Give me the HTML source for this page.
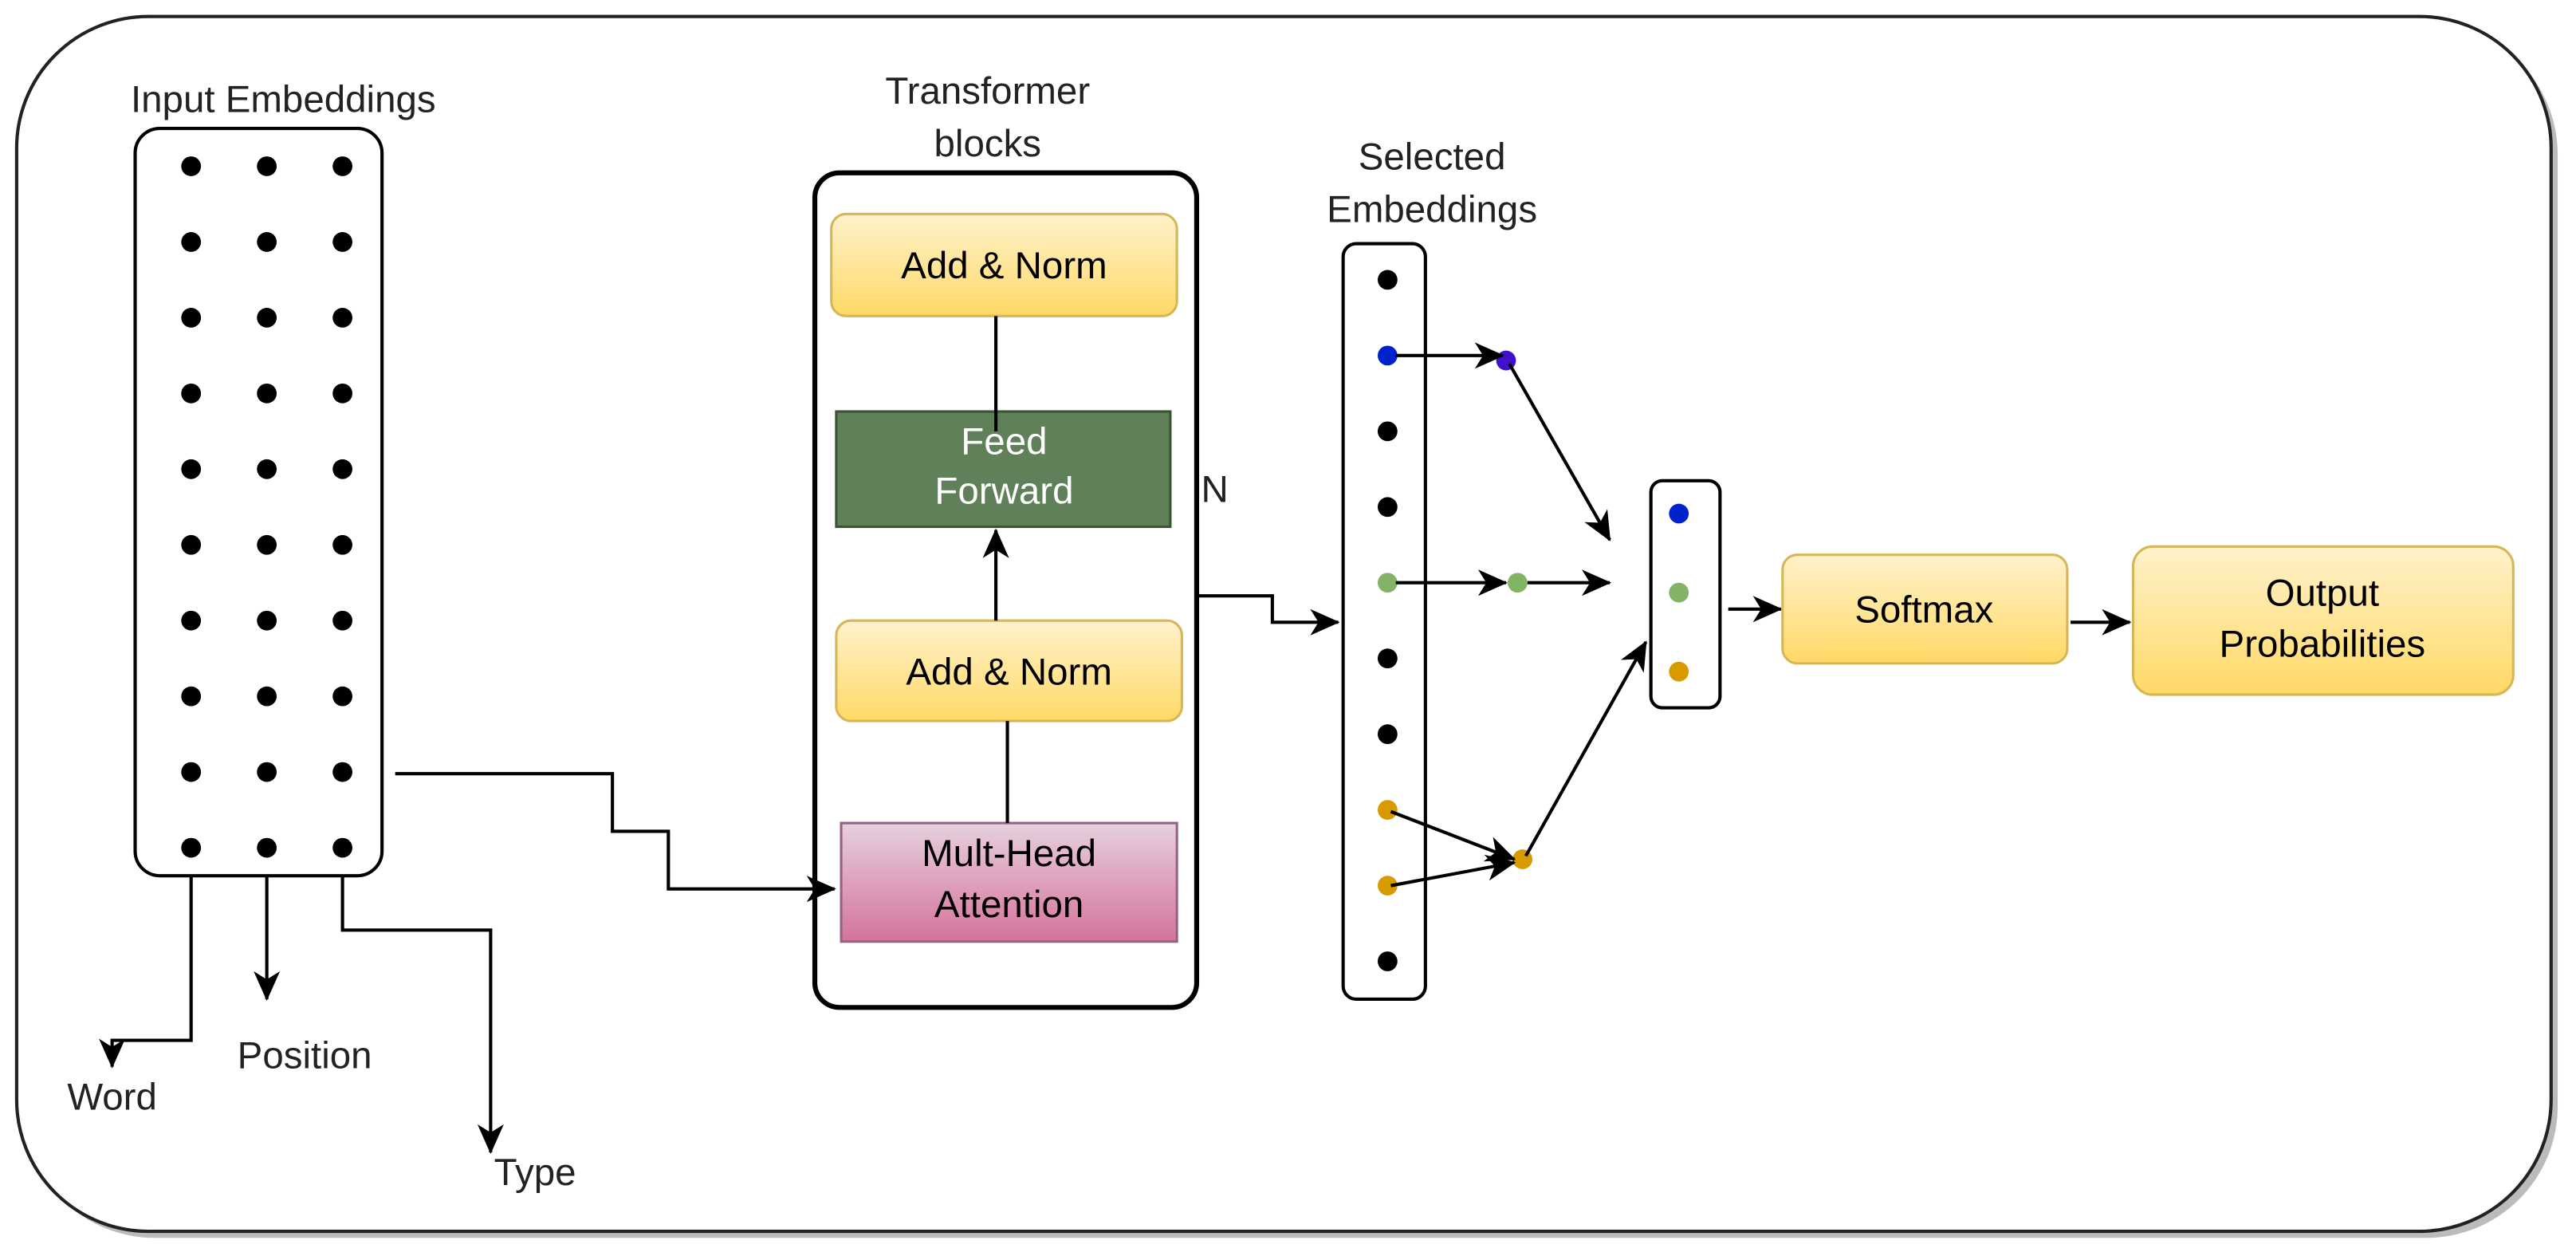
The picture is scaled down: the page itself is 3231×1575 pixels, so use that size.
<!DOCTYPE html>
<html><head><meta charset="utf-8"><style>html,body{margin:0;padding:0;background:#fff}svg{display:block}</style></head>
<body>
<svg width="3231" height="1575" viewBox="0 0 1565 763" xmlns="http://www.w3.org/2000/svg" font-family="Liberation Sans, Arial, sans-serif">
<defs>
<linearGradient id="y" x1="0" y1="0" x2="0" y2="1"><stop offset="0" stop-color="#fff2cc"/><stop offset="1" stop-color="#ffd966"/></linearGradient>
<linearGradient id="p" x1="0" y1="0" x2="0" y2="1"><stop offset="0" stop-color="#e6d0de"/><stop offset="1" stop-color="#d5739d"/></linearGradient>
<marker id="a" markerWidth="18" markerHeight="16" refX="17" refY="8" orient="auto" markerUnits="userSpaceOnUse"><path d="M0,0 L18,8 L0,16 L5,8 z" fill="#000"/></marker>
</defs>
<rect x="14" y="14" width="1540" height="738" rx="80" fill="#bbb"/>
<rect x="10" y="10" width="1540" height="738" rx="80" fill="#fff" stroke="#222" stroke-width="2"/>
<g font-size="23" text-anchor="middle" fill="#222">
<text x="172" y="68">Input Embeddings</text>
<text x="600" y="63">Transformer</text><text x="600" y="95">blocks</text>
<text x="870" y="103">Selected</text><text x="870" y="135">Embeddings</text>
<text x="68" y="674">Word</text><text x="185" y="649">Position</text><text x="325" y="720">Type</text>
<text x="738" y="305">N</text>
</g>
<rect x="82" y="78" width="150" height="454" rx="15" fill="#fff" stroke="#000" stroke-width="2"/>
<g fill="#000">
<g id="r"><circle cx="116" cy="101" r="6"/><circle cx="162" cy="101" r="6"/><circle cx="208" cy="101" r="6"/></g>
<use href="#r" y="46"/><use href="#r" y="92"/><use href="#r" y="138"/><use href="#r" y="184"/><use href="#r" y="230"/><use href="#r" y="276"/><use href="#r" y="322"/><use href="#r" y="368"/><use href="#r" y="414"/>
</g>
<rect x="495" y="105" width="232" height="507" rx="15" fill="#fff" stroke="#000" stroke-width="3"/>
<g fill="none" stroke="#000" stroke-width="2">
<path d="M116,532 V632 H68 V648" marker-end="url(#a)"/>
<path d="M162,532 V607" marker-end="url(#a)"/>
<path d="M208,532 V565 H298 V700" marker-end="url(#a)"/>
<path d="M240,470 H372 V505 H406 V540 H507" marker-end="url(#a)"/>
<path d="M727,362 H773 V378 H813" marker-end="url(#a)"/>
</g>
<g font-size="23" text-anchor="middle">
<rect x="505" y="130" width="210" height="62" rx="9" fill="url(#y)" stroke="#d6b656" stroke-width="1.5"/><text x="610" y="169">Add &amp; Norm</text>
<rect x="508" y="250" width="203" height="70" fill="#5f8058" stroke="#3a5431" stroke-width="1.5"/><text x="610" y="276" fill="#fff">Feed</text><text x="610" y="306" fill="#fff">Forward</text>
<rect x="508" y="377" width="210" height="61" rx="9" fill="url(#y)" stroke="#d6b656" stroke-width="1.5"/><text x="613" y="416">Add &amp; Norm</text>
<rect x="511" y="500" width="204" height="72" fill="url(#p)" stroke="#996185" stroke-width="1.5"/><text x="613" y="526">Mult-Head</text><text x="613" y="557">Attention</text>
</g>
<g fill="none" stroke="#000" stroke-width="2">
<path d="M605,192 V262"/><path d="M605,377 V322" marker-end="url(#a)"/><path d="M612,500 V438"/>
</g>
<rect x="816" y="148" width="50" height="459" rx="8" fill="#fff" stroke="#000" stroke-width="2"/>
<g>
<circle cx="843" cy="170" r="6"/><circle cx="843" cy="216" r="6" fill="#0022cc"/><circle cx="843" cy="262" r="6"/><circle cx="843" cy="308" r="6"/>
<circle cx="843" cy="354" r="6" fill="#82b366"/><circle cx="843" cy="400" r="6"/><circle cx="843" cy="446" r="6"/>
<circle cx="843" cy="492" r="6" fill="#d79b00"/><circle cx="843" cy="538" r="6" fill="#d79b00"/><circle cx="843" cy="584" r="6"/>
<circle cx="915" cy="219" r="6" fill="#4010cc"/><circle cx="922" cy="354" r="6" fill="#82b366"/><circle cx="925" cy="522" r="6" fill="#d79b00"/>
</g>
<g fill="none" stroke="#000" stroke-width="2">
<path d="M848,216 H913" marker-end="url(#a)"/><path d="M917,221 L978,328" marker-end="url(#a)"/>
<path d="M848,354 H915" marker-end="url(#a)"/><path d="M928,354 H978" marker-end="url(#a)"/>
<path d="M845,493 L920,522" marker-end="url(#a)"/><path d="M845,538 L920,524" marker-end="url(#a)"/>
<path d="M927,520 L1000,390" marker-end="url(#a)"/>
<path d="M1050,370 H1082" marker-end="url(#a)"/><path d="M1258,378 H1294" marker-end="url(#a)"/>
</g>
<rect x="1003" y="292" width="42" height="138" rx="7" fill="#fff" stroke="#000" stroke-width="2"/>
<circle cx="1020" cy="312" r="6" fill="#0022cc"/><circle cx="1020" cy="360" r="6" fill="#82b366"/><circle cx="1020" cy="408" r="6" fill="#d79b00"/>
<g font-size="23" text-anchor="middle">
<rect x="1083" y="337" width="173" height="66" rx="9" fill="url(#y)" stroke="#d6b656" stroke-width="1.5"/><text x="1169" y="378">Softmax</text>
<rect x="1296" y="332" width="231" height="90" rx="12" fill="url(#y)" stroke="#d6b656" stroke-width="1.5"/><text x="1411" y="368">Output</text><text x="1411" y="399">Probabilities</text>
</g>
</svg>
</body></html>
